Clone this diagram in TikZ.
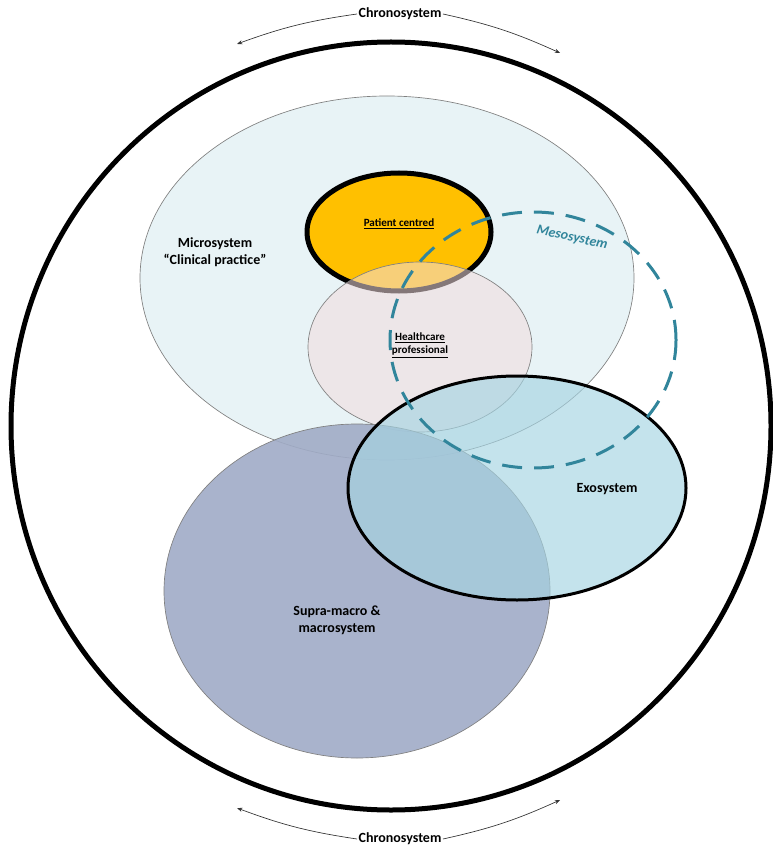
\documentclass[tikz,border=0pt]{standalone}
\usepackage{fontspec}
\setmainfont{Carlito}
\usepackage{tikz}
\usetikzlibrary{arrows.meta}
\definecolor{micro}{RGB}{232, 243, 246}
\definecolor{patient}{RGB}{255, 192, 0}
\definecolor{health}{RGB}{242, 220, 222}
\definecolor{supra}{RGB}{160, 171, 198}
\definecolor{exo}{RGB}{165, 212, 226}
\definecolor{meso}{RGB}{49, 133, 155}
\definecolor{gray50}{gray}{0.5}

\begin{document}
\begin{tikzpicture}[x=0.75pt, y=-0.75pt,
    label/.style={font=\bfseries\fontsize{10.5}{12.5}\selectfont, align=center},
    small label/.style={font=\bfseries\fontsize{8.3}{10}\selectfont, align=center},
    chrono/.style={gray50!40!black, line width=0.5, -{Stealth[length=4pt, width=3pt]}}]

  \useasboundingbox (0, 0) rectangle (772, 848);

  % outer circle
  \draw[black, line width=3.75] (391, 426) ellipse [x radius=380, y radius=384];

  % microsystem
  \fill[micro] (387, 278) ellipse [x radius=247, y radius=182];
  \draw[gray50, line width=0.5] (387, 278) ellipse [x radius=247, y radius=182];

  % patient centred
  \fill[patient] (399, 232) ellipse [x radius=92, y radius=59];
  \draw[black, line width=3.75] (399, 232) ellipse [x radius=92, y radius=59];

  % healthcare professional
  \fill[health, fill opacity=0.55] (420, 347) ellipse [x radius=112, y radius=85];
  \draw[gray50, line width=0.5] (420, 347) ellipse [x radius=112, y radius=85];

  % supra-macro and macrosystem
  \fill[supra, fill opacity=0.9] (357, 591) ellipse [x radius=193, y radius=167];
  \draw[gray50, line width=0.5] (357, 591) ellipse [x radius=193, y radius=167];

  % exosystem
  \fill[exo, fill opacity=0.65] (517, 488) ellipse [x radius=169, y radius=112];
  \draw[black, line width=2.25] (517, 488) ellipse [x radius=169, y radius=112];

  % mesosystem
  \draw[meso, line width=2.25, dash pattern=on 15pt off 9pt]
    (533, 340) ellipse [x radius=143, y radius=128];

  \node[label] (micro) at (215, 252) {Microsystem\\``Clinical practice''};
  \node[small label] (patient) at (399, 224) {\underline{Patient centred}};
  \node[small label] (health) at (420, 345) {\underline{Healthcare}\\\underline{professional}};
  \node[label, meso, rotate=-12] (meso) at (572, 238) {\itshape Mesosystem};
  \node[label] (exo) at (607, 489) {Exosystem};
  \node[label] (supra) at (337, 620) {Supra-macro \&\\macrosystem};

  % chronosystem
  \node[label, inner sep=1pt] (chronotop) at (400, 14) {Chronosystem};
  \coordinate (tl) at (237, 44);
  \coordinate (tr) at (560, 53);
  \draw[chrono] (chronotop.west) to[bend right=6] (tl);
  \draw[chrono] (chronotop.east) to[bend left=6] (tr);

  \node[label, inner sep=1pt] (chronobot) at (400, 839) {Chronosystem};
  \coordinate (bl) at (237, 808);
  \coordinate (br) at (560, 800);
  \draw[chrono] (chronobot.west) to[bend left=6] (bl);
  \draw[chrono] (chronobot.east) to[bend right=6] (br);

\end{tikzpicture}
\end{document}
